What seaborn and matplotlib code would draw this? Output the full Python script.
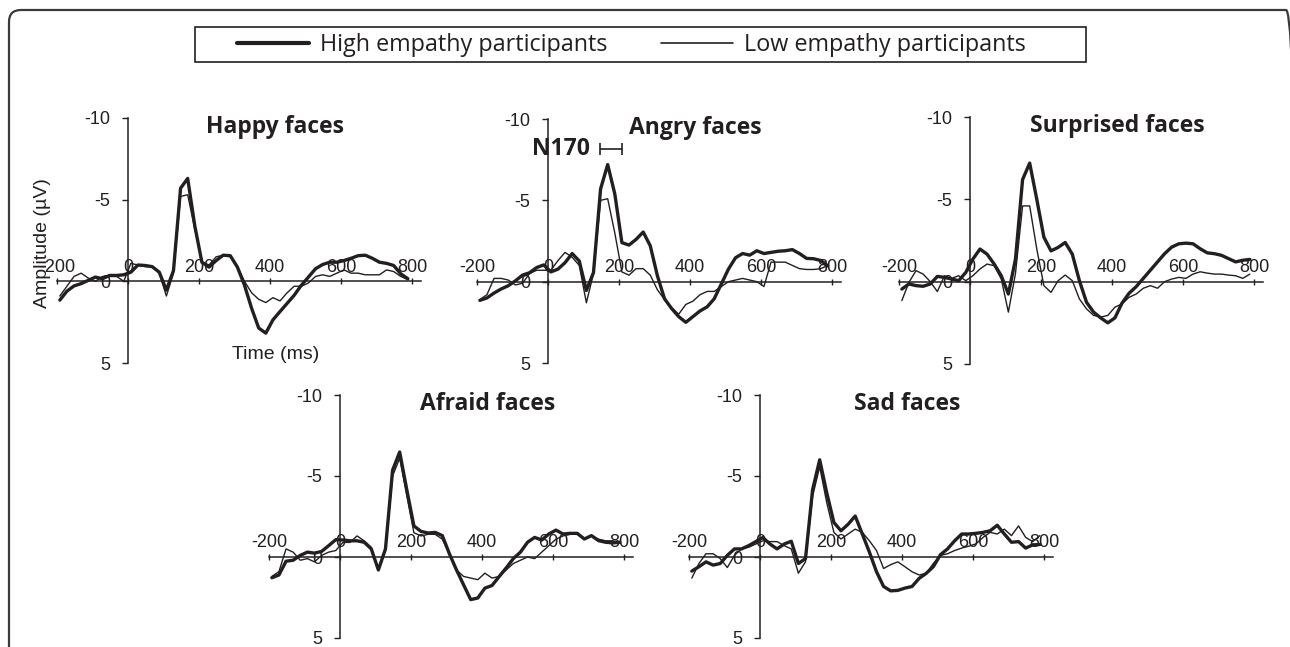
import matplotlib
matplotlib.use("Agg")
import matplotlib.pyplot as plt
import seaborn as sns
import pandas as pd
from matplotlib.lines import Line2D
from matplotlib.patches import FancyBboxPatch, Rectangle
from matplotlib.transforms import IdentityTransform

# ---------------- data ----------------
time_ms = [-192, -172, -152, -132, -112, -92, -72, -52, -32, -12,
           8, 28, 48, 68, 88, 108, 128, 148, 168, 188,
           208, 228, 248, 268, 288, 308, 328, 348, 368, 388,
           408, 428, 448, 468, 488, 508, 528, 548, 568, 588,
           608, 628, 648, 668, 688, 708, 728, 748, 768, 788]

happy_high = [1.15, 0.6, 0.28, 0.14, -0.06, -0.26, -0.16, -0.36, -0.36, -0.4,
              -0.56, -1.0, -0.97, -0.9, -0.56, 0.54, -0.66, -5.7, -6.3, -3.4,
              -1.17, -0.87, -1.27, -1.6, -1.57, -0.87, 0.24, 1.65, 2.86, 3.17,
              2.36, 1.85, 1.35, 0.85, 0.24, -0.26, -0.77, -1.03, -1.17, -1.17,
              -1.27, -1.41, -1.57, -1.6, -1.41, -1.17, -1.1, -0.97, -0.46, -0.16]
happy_low = [0.9, 0.3, -0.3, -0.5, -0.2, 0.0, -0.3, -0.3, -0.3, 0.0,
             -1.1, -1.0, -0.9, -0.9, -0.5, 0.9, -0.5, -5.2, -5.3, -3.2,
             -1.2, -1.0, -1.5, -1.6, -1.5, -0.9, 0.0, 0.7, 1.1, 1.3,
             1.0, 1.2, 0.7, 0.3, 0.3, 0.1, -0.3, -0.4, -0.3, -0.5,
             -0.7, -0.5, -0.5, -0.4, -0.4, -0.4, -0.7, -0.6, -0.3, -0.1]

angry_high = [1.15, 1.0, 0.7, 0.45, 0.25, -0.05, -0.4, -0.55, -0.87, -1.03,
              -0.6, -0.77, -1.17, -1.73, -1.27, 0.54, -0.56, -5.7, -7.2, -5.4,
              -2.4, -2.25, -2.6, -3.05, -2.2, -0.36, 1.05, 1.65, 2.15, 2.5,
              2.15, 1.8, 1.55, 1.05, 0.14, -0.77, -1.47, -1.73, -1.63, -1.9,
              -1.73, -1.8, -1.87, -1.9, -1.97, -1.73, -1.43, -1.41, -1.3, -0.97]
angry_low = [1.1, 0.8, -0.2, -0.2, -0.1, 0.2, 0.1, -0.5, -0.7, -0.7,
             -0.7, -1.3, -1.8, -1.5, -1.0, 1.3, -0.5, -5.0, -5.1, -3.0,
             -0.6, -0.4, -0.8, -0.8, -0.4, 0.5, 1.1, 1.6, 2.0, 1.4,
             1.2, 0.8, 0.6, 0.6, 0.3, 0.0, -0.1, -0.2, -0.1, 0.0,
             0.3, -1.2, -1.2, -1.2, -1.0, -0.8, -0.75, -0.75, -0.8, -1.0]

surprised_high = [0.45, 0.14, 0.24, 0.28, 0.14, -0.32, -0.26, -0.16, -0.06, -0.56,
                  -1.37, -1.98, -1.67, -1.07, -0.36, 0.75, -1.37, -6.2, -7.2, -5.0,
                  -2.7, -1.87, -2.08, -2.38, -1.67, -0.06, 1.25, 1.85, 2.2, 2.5,
                  2.2, 1.3, 0.7, 0.3, -0.2, -0.7, -1.2, -1.7, -2.1, -2.3,
                  -2.34, -2.3, -2.0, -1.75, -1.7, -1.6, -1.4, -1.2, -1.3, -1.35]
surprised_low = [1.15, 0.04, -0.67, -0.46, 0.0, 0.6, -0.36, -0.2, -0.36, -0.06,
                 -0.36, -0.77, -1.07, -0.97, -0.16, 1.85, -0.5, -4.6, -4.6, -1.98,
                 0.24, 0.65, -0.06, -0.4, -0.06, 1.05, 1.65, 2.05, 2.15, 2.05,
                 1.55, 1.35, 0.95, 0.75, 0.4, 0.24, 0.4, 0.0, -0.16, -0.26,
                 -0.2, -0.46, -0.6, -0.52, -0.46, -0.46, -0.4, -0.36, -0.2, -0.46]

afraid_high = [1.28, 1.11, 0.26, 0.2, -0.1, -0.3, -0.24, -0.34, -0.7, -1.07,
               -1.05, -1.0, -1.0, -0.91, -0.5, 0.8, -0.5, -5.36, -6.48, -4.15,
               -1.92, -1.58, -1.48, -1.52, -1.32, -0.2, 0.8, 1.72, 2.63, 2.53,
               1.92, 1.76, 1.21, 0.67, 0.1, -0.3, -0.91, -1.21, -1.05, -1.42,
               -1.66, -1.42, -1.46, -1.46, -1.11, -1.32, -1.01, -0.91, -0.87, -0.91]
afraid_low = [1.2, 0.9, -0.5, -0.3, 0.2, 0.1, 0.3, -0.1, -0.3, -0.4,
              -0.9, -0.9, -1.3, -1.0, -0.6, 0.8, -0.4, -5.0, -6.1, -3.8,
              -1.5, -1.3, -1.4, -1.4, -1.1, -0.2, 0.8, 1.2, 1.3, 1.4,
              1.0, 1.3, 1.2, 0.8, 0.4, 0.2, 0.0, 0.1, -0.3, -0.7,
              -1.1, -1.3, -1.4, -1.4, -1.1, -1.3, -1.1, -1.0, -1.0, -0.9]

sad_high = [0.87, 0.6, 0.3, 0.5, 0.4, -0.1, -0.5, -0.5, -0.7, -0.95,
            -1.2, -0.8, -0.5, -0.8, -0.97, 0.4, 0.1, -4.15, -6.0, -3.95,
            -2.13, -1.62, -2.02, -2.53, -1.42, -0.3, 0.91, 1.82, 2.09, 2.06,
            1.92, 1.82, 1.32, 1.01, 0.6, -0.14, -0.5, -1.0, -1.42, -1.42,
            -1.46, -1.52, -1.62, -1.96, -1.42, -0.91, -0.95, -0.55, -0.75, -0.77]
sad_low = [1.3, 0.4, -0.2, -0.2, 0.1, 0.65, -0.1, -0.5, -0.6, -0.8,
           -1.0, -0.95, -0.95, -0.7, -0.5, 1.0, 0.3, -3.75, -5.57, -3.34,
           -1.52, -1.11, -1.42, -1.72, -1.52, -1.0, -0.4, 0.71, 0.47, 0.3,
           0.6, 0.91, 1.11, 1.01, 0.4, -0.1, -0.2, -0.4, -0.55, -0.67,
           -0.81, -1.21, -1.52, -1.42, -1.72, -1.32, -1.92, -1.21, -0.95, -1.32]

panel_titles = ["Happy faces", "Angry faces", "Surprised faces", "Afraid faces", "Sad faces"]
series_labels = ["High empathy participants", "Low empathy participants"]
x_ticks = [-200, 0, 200, 400, 600, 800]
y_ticks = [-10, -5, 0, 5]
n170_window = [146, 208]
n170_level = -8.15

high_series = [happy_high, angry_high, surprised_high, afraid_high, sad_high]
low_series = [happy_low, angry_low, surprised_low, afraid_low, sad_low]

# ---------------- style ----------------
sns.set_theme(style="white")
plt.rcParams["font.family"] = ["Liberation Sans", "DejaVu Sans"]
plt.rcParams["axes.unicode_minus"] = False
INK = "#231f20"

W, H = 1290, 647
fig = plt.figure(figsize=(W / 100, H / 100), dpi=100)
fig.patch.set_facecolor("white")

# panel frames in pixels: (left, top, bottom)
frames = [(57, 118, 363), (477, 119, 363), (899, 117, 364), (269, 395, 638), (689, 395, 638)]
AX_W = 364

axes = []
for (left, top, bottom) in frames:
    ax = fig.add_axes([left / W, 1 - bottom / H, AX_W / W, (bottom - top) / H])
    axes.append(ax)

for i, ax in enumerate(axes):
    df = pd.DataFrame({"time": time_ms, "high": high_series[i], "low": low_series[i]})
    sns.lineplot(data=df, x="time", y="low", ax=ax, color=INK, linewidth=1.0, zorder=3)
    sns.lineplot(data=df, x="time", y="high", ax=ax, color=INK, linewidth=2.4, zorder=4)
    ax.set_xlabel("")
    ax.set_ylabel("")
    ax.set_xlim(-200, 825)
    ax.set_ylim(5, -10)
    ax.patch.set_alpha(0)
    ax.spines["right"].set_visible(False)
    ax.spines["bottom"].set_visible(False)
    ax.spines["left"].set_position(("data", 0))
    ax.spines["top"].set_position(("data", 0))
    for s in ("left", "top"):
        ax.spines[s].set_color(INK)
        ax.spines[s].set_linewidth(1.1)
    ax.xaxis.set_ticks_position("top")
    ax.yaxis.set_ticks_position("left")
    ax.set_xticks(x_ticks)
    ax.set_yticks(y_ticks)
    ax.set_xticklabels([str(v) for v in x_ticks])
    ax.set_yticklabels([str(v) for v in y_ticks])
    ax.tick_params(axis="x", direction="inout", length=4, width=1, pad=2,
                   labelsize=13, colors=INK)
    ax.tick_params(axis="y", direction="out", length=4, width=1, pad=9,
                   labelsize=13, colors=INK)
    ax.text(0.6, 0.963, panel_titles[i], transform=ax.transAxes, ha="center", va="center",
            fontsize=16.5, fontweight="bold", family=["Open Sans", "DejaVu Sans"], color=INK)

# axis labels on first panel
ax0 = axes[0]
ax0.set_ylabel("Amplitude (µV)", fontsize=14, color=INK)
ax0.yaxis.set_label_coords(-0.041, 0.49)
ax0.yaxis.label.set_va("center")
ax0.set_xlabel("Time (ms)", fontsize=14, color=INK)
ax0.xaxis.set_label_coords(0.6, 0.033)
ax0.xaxis.label.set_va("center")

# N170 marker on angry panel
ax1 = axes[1]
mid = (n170_window[0] + n170_window[1]) / 2
half = (n170_window[1] - n170_window[0]) / 2
ax1.errorbar([mid], [n170_level], xerr=[half], fmt="none", ecolor=INK,
             elinewidth=1.2, capsize=4, capthick=1.2, zorder=5)
ax1.annotate("N170", xy=(n170_window[0], n170_level), xytext=(-7, 0),
             textcoords="offset points", ha="right", va="center",
             fontsize=16.5, fontweight="bold", family=["Open Sans", "DejaVu Sans"], color=INK)

# legend
handles = [Line2D([], [], color=INK, linewidth=3.0), Line2D([], [], color=INK, linewidth=1.2)]
leg = fig.legend(handles, series_labels, loc="center left", bbox_to_anchor=(237 / W, 1 - 45 / H),
                 ncol=2, frameon=False, prop={"family": "Open Sans", "size": 16.8},
                 handlelength=3.1, handletextpad=0.45, columnspacing=2.3,
                 borderpad=0, borderaxespad=0)
for t in leg.get_texts():
    t.set_color(INK)
fig.add_artist(Rectangle((195, H - 62), 891, 35, transform=IdentityTransform(),
                         fill=False, edgecolor=INK, linewidth=1.2))

# outer rounded frame (right and bottom edges run off the canvas)
fig.add_artist(FancyBboxPatch((9, -14), 1289, H - 10 + 14, boxstyle="round,pad=0,rounding_size=12",
                              transform=IdentityTransform(), fill=False,
                              edgecolor="#3a3a3a", linewidth=1.6))

fig.savefig("out.png", dpi=100, facecolor="white")
